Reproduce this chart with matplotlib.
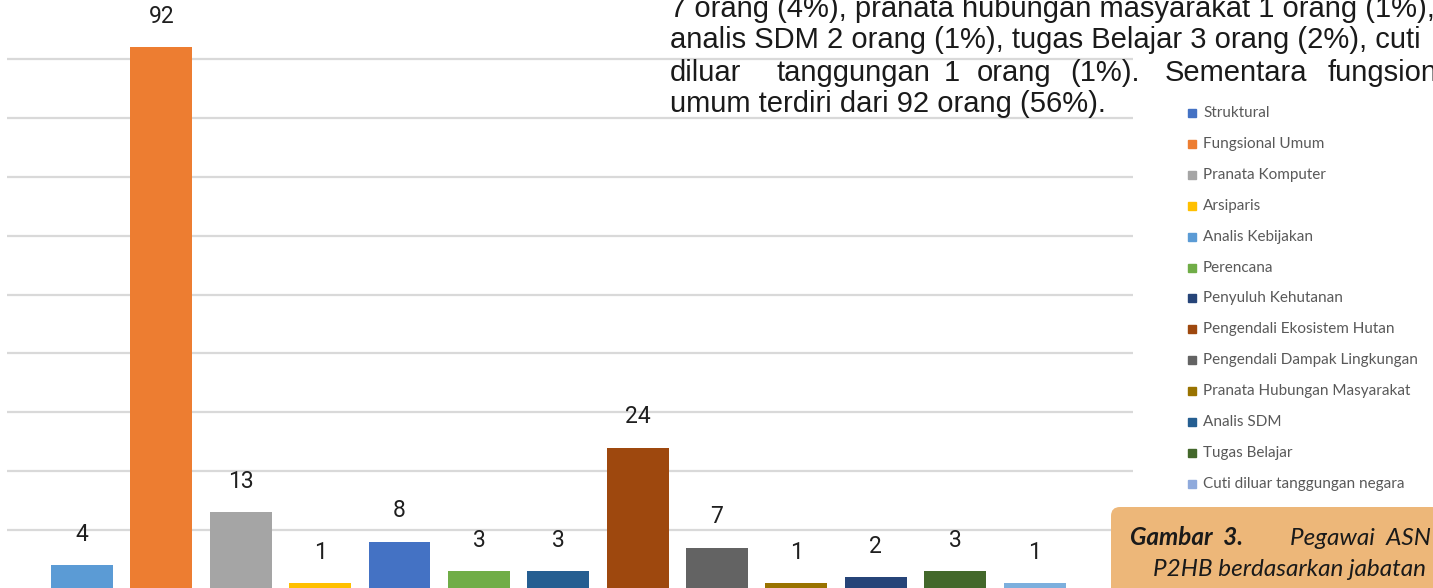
import matplotlib.pyplot as plt
from matplotlib.patches import Rectangle, FancyBboxPatch
from matplotlib.transforms import IdentityTransform

# data
jabatan = ['Struktural', 'Fungsional Umum', 'Pranata Komputer', 'Arsiparis',
           'Analis Kebijakan', 'Perencana', 'Penyuluh Kehutanan',
           'Pengendali Ekosistem Hutan', 'Pengendali Dampak Lingkungan',
           'Pranata Hubungan Masyarakat', 'Analis SDM', 'Tugas Belajar',
           'Cuti diluar tanggungan negara']
jumlah = [4, 92, 13, 1, 8, 3, 3, 24, 7, 1, 2, 3, 1]
warna_batang = ['#5B9BD5', '#ED7D31', '#A5A5A5', '#FFC000', '#4472C4', '#70AD47',
                '#255E91', '#9E480E', '#636363', '#997300', '#264478', '#43682B',
                '#7CAFDD']
warna_legenda = ['#4472C4', '#ED7D31', '#A5A5A5', '#FFC000', '#5B9BD5', '#70AD47',
                 '#264478', '#9E480E', '#636363', '#997300', '#255E91', '#43682B',
                 '#8FAADC']

paragraf = ['7 orang (4%), pranata hubungan masyarakat 1 orang (1%),',
            'analis SDM 2 orang (1%), tugas Belajar 3 orang (2%), cuti',
            'diluar tanggungan 1 orang (1%). Sementara fungsional',
            'umum terdiri dari 92 orang (56%).']

W, H = 1433, 588
fig = plt.figure(figsize=(W / 100, H / 100), dpi=100)
fig.patch.set_facecolor('white')

# chart area
ax = fig.add_axes([7 / W, -1 / H, 1126 / W, 589 / H])
x = range(len(jumlah))
bars = ax.bar(x, jumlah, width=0.78, color=warna_batang, zorder=2)
for b, v in zip(bars, jumlah):
    ax.annotate(str(v), (b.get_x() + b.get_width() / 2, v), xytext=(0, 14),
                textcoords='offset points', ha='center', va='bottom',
                fontsize=16.5, color='#1f1f1f', family='Roboto')
ax.set_xlim(-0.945, 13.24)
ax.set_ylim(0, 100)
ax.set_yticks(range(10, 100, 10))
ax.yaxis.grid(True, color='#d9d9d9', lw=1.6)
ax.set_axisbelow(True)
ax.tick_params(left=False, bottom=False, labelleft=False, labelbottom=False)
for s in ax.spines.values():
    s.set_visible(False)
ax.patch.set_alpha(0)

# legend drawn by hand
for i, (lab, c) in enumerate(zip(jabatan, warna_legenda)):
    yy = H - 113 - i * 30.9
    fig.patches.append(Rectangle((1188, yy - 4), 8, 8, color=c,
                                 transform=IdentityTransform(), figure=fig))
    fig.text(1203 / W, yy / H, lab, fontsize=11, color='#595959',
             family='Lato', va='center', ha='left')

# paragraph text over the chart
baris_y = [17, 48, 81, 112]
for i, t in enumerate(paragraf):
    if i == 2:
        kata = t.split(' ')
        pos = [670, 776, 944, 977, 1070, 1165, 1328]
        for k, px in zip(kata, pos):
            fig.text(px / W, 1 - baris_y[i] / H, k, fontsize=21,
                     family='Liberation Sans', color='#1a1a1a', va='baseline')
    else:
        fig.text(670 / W, 1 - baris_y[i] / H, t, fontsize=21,
                 family='Liberation Sans', color='#1a1a1a', va='baseline')

# caption box
box = FancyBboxPatch((1111, -20), 360, 101, boxstyle='round,pad=0,rounding_size=9',
                     fc='#EDB779', ec='none', transform=IdentityTransform(),
                     figure=fig)
fig.patches.append(box)
fig.text(1130 / W, 1 - 545 / H, 'Gambar  3.', fontsize=17.5, weight='bold',
         style='italic', family='Lato', color='#1a1a1a', va='baseline')
fig.text(1290 / W, 1 - 545 / H, 'Pegawai  ASN', fontsize=17.5, style='italic',
         family='Lato', color='#1a1a1a', va='baseline')
fig.text(1153 / W, 1 - 576 / H, 'P2HB berdasarkan jabatan', fontsize=17.5,
         style='italic', family='Lato', color='#1a1a1a', va='baseline')

fig.savefig('out.png', dpi=100)
